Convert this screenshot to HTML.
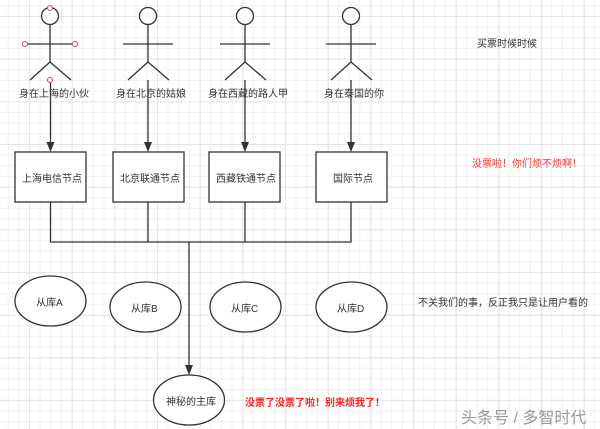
<!DOCTYPE html>
<html><head><meta charset="utf-8"><style>
html,body{margin:0;padding:0}
body{width:600px;height:429px;overflow:hidden;position:relative;background:#fff;
font-family:"Liberation Sans","Noto Sans CJK SC",sans-serif;
background-image:
linear-gradient(to right,#e6e6e6 1px,transparent 1px),
linear-gradient(to bottom,#e6e6e6 1px,transparent 1px),
linear-gradient(to right,#f2f2f2 1px,transparent 1px),
linear-gradient(to bottom,#f2f2f2 1px,transparent 1px);
background-size:42.7px 42.7px,42.7px 42.7px,10.67px 10.67px,10.67px 10.67px;
background-position:29px 16px,29px 16px,29px 16px,29px 16px;}
.t{position:absolute;font-size:10px;color:#333;white-space:nowrap}
svg{position:absolute;left:0;top:0}
</style></head><body>
<svg width="600" height="429" viewBox="0 0 600 429">
<g stroke="#333" stroke-width="1.3" fill="#fff">
<g transform="translate(50,0)"><circle cx="0" cy="16" r="8.5"/><line x1="0" y1="25" x2="0" y2="62"/><line x1="-26" y1="44" x2="25" y2="44"/><line x1="0" y1="62" x2="-20" y2="80"/><line x1="0" y1="62" x2="21" y2="80"/></g>
<g transform="translate(148,0)"><circle cx="0" cy="16" r="8.5"/><line x1="0" y1="25" x2="0" y2="62"/><line x1="-25" y1="44" x2="25" y2="44"/><line x1="0" y1="62" x2="-20" y2="80"/><line x1="0" y1="62" x2="21" y2="80"/></g>
<g transform="translate(245,0)"><circle cx="0" cy="16" r="8.5"/><line x1="0" y1="25" x2="0" y2="62"/><line x1="-25" y1="44" x2="25" y2="44"/><line x1="0" y1="62" x2="-20" y2="80"/><line x1="0" y1="62" x2="21" y2="80"/></g>
<g transform="translate(351,0)"><circle cx="0" cy="16" r="8.5"/><line x1="0" y1="25" x2="0" y2="62"/><line x1="-25" y1="44" x2="25" y2="44"/><line x1="0" y1="62" x2="-20" y2="80"/><line x1="0" y1="62" x2="21" y2="80"/></g>
<line x1="50.5" y1="80" x2="50.5" y2="145"/>
<line x1="148" y1="80" x2="148" y2="145"/>
<line x1="245" y1="80" x2="245" y2="145"/>
<line x1="351" y1="80" x2="351" y2="145"/>
<rect x="15" y="152" width="71" height="50"/>
<rect x="113" y="152" width="71" height="50"/>
<rect x="209" y="152" width="71" height="50"/>
<rect x="316" y="152" width="71" height="50"/>
<polyline fill="none" points="50.5,202 50.5,242 351,242 351,202"/>
<line x1="148" y1="202" x2="148" y2="242"/>
<line x1="245" y1="202" x2="245" y2="242"/>
<line x1="189" y1="242" x2="189" y2="368"/>
<ellipse cx="50.5" cy="301" rx="35.5" ry="25"/>
<ellipse cx="145.5" cy="307" rx="35.5" ry="25"/>
<ellipse cx="245.5" cy="307" rx="35.5" ry="25"/>
<ellipse cx="351.5" cy="307" rx="35.5" ry="25"/>
<ellipse cx="189" cy="400" rx="35.5" ry="25"/>
</g>
<g fill="#333">
<polygon points="46.5,142 50.5,152 54.5,142"/>
<polygon points="144,142 148,152 152,142"/>
<polygon points="241,142 245,152 249,142"/>
<polygon points="347,142 351,152 355,142"/>
<polygon points="185,365 189,375 193,365"/>
</g>
<g fill="#fff" stroke="#b55" stroke-width="1"><circle cx="50" cy="8" r="2.5"/><circle cx="25" cy="44" r="2.5"/><circle cx="75" cy="44" r="2.5"/><circle cx="50" cy="80" r="2.5"/></g>
</svg>
<div class="t" style="left:19px;top:85px">身在上海的小伙</div>
<div class="t" style="left:116px;top:85px">身在北京的姑娘</div>
<div class="t" style="left:208px;top:85px">身在西藏的路人甲</div>
<div class="t" style="left:324px;top:85px">身在泰国的你</div>
<div class="t" style="left:22px;top:170px">上海电信节点</div>
<div class="t" style="left:120px;top:170px">北京联通节点</div>
<div class="t" style="left:216px;top:170px">西藏铁通节点</div>
<div class="t" style="left:333px;top:170px">国际节点</div>
<div class="t" style="left:36px;top:294px">从库A</div>
<div class="t" style="left:131px;top:300px">从库B</div>
<div class="t" style="left:231px;top:300px">从库C</div>
<div class="t" style="left:337px;top:300px">从库D</div>
<div class="t" style="left:166px;top:393px">神秘的主库</div>
<div class="t" style="left:477px;top:35px">买票时候时候</div>
<div class="t" style="left:472px;top:155px;color:#f33">没票啦！你们烦不烦啊！</div>
<div class="t" style="left:418px;top:294px">不关我们的事，反正我只是让用户看的</div>
<div class="t" style="left:245px;top:394px;color:#f22;font-weight:bold">没票了没票了啦！别来烦我了！</div>
<div class="t" style="left:461px;top:404px;font-size:16px;color:#999">头条号 / 多智时代</div>
</body></html>
